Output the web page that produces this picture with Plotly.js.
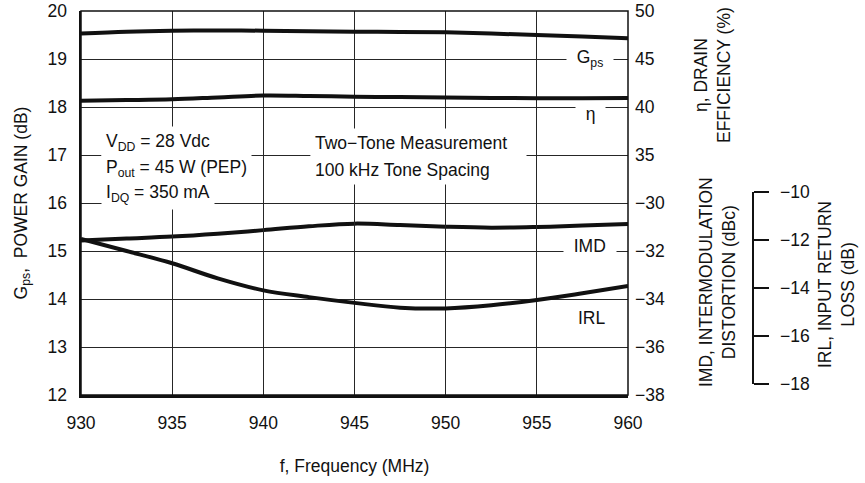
<!DOCTYPE html>
<html>
<head>
<meta charset="utf-8">
<script src="https://cdn.plot.ly/plotly-3.0.1.min.js"></script>
<style>html,body{margin:0;padding:0;background:#fff;}</style>
</head>
<body>
<div id="chart" style="width:865px;height:483px;"></div>
<script>
// ---- data ----
const freq = [930, 932.5, 935, 937.5, 940, 942.5, 945, 947.5, 950, 952.5, 955, 957.5, 960];
const gps  = [19.53, 19.57, 19.59, 19.595, 19.59, 19.58, 19.57, 19.565, 19.555, 19.53, 19.5, 19.47, 19.43];
const eta  = [40.66, 40.72, 40.8, 41.0, 41.2, 41.15, 41.07, 41.03, 41.0, 40.95, 40.92, 40.92, 40.95];
const imd  = [-31.56, -31.48, -31.40, -31.28, -31.13, -30.97, -30.86, -30.92, -30.99, -31.03, -31.0, -30.94, -30.88];
const irl  = [-11.96, -12.46, -12.97, -13.6, -14.1, -14.38, -14.62, -14.82, -14.85, -14.72, -14.5, -14.22, -13.92];

const xTicks   = [930, 935, 940, 945, 950, 955, 960];
const etaTicks = [35, 40, 45, 50];
const imdTicks = [-38, -36, -34, -32, -30];
const irlTicks = [-18, -16, -14, -12, -10];

const F = 'Liberation Sans, Arial, Helvetica, sans-serif';
const FS = 17.5;
const INK = '#111';
const GRID = '#262626';

const W = 865, H = 483, ML = 81, MR = 20, MT = 11, MB = 88;
const PW = W - ML - MR;            // paper width in px
const PH = H - MT - MB;            // plot height in px
const XD = 547 / PW;               // x domain end

function line(y, yaxis) {
  return {x: freq, y: y, yaxis: yaxis, type: 'scatter', mode: 'lines',
          line: {color: INK, width: 4, shape: 'spline', smoothing: 1},
          hoverinfo: 'skip'};
}
const traces = [line(gps, 'y'), line(eta, 'y2'), line(imd, 'y3'), line(irl, 'y4')];

function ann(text, x, y, opts) {
  return Object.assign({text: text, x: x, y: y, xref: 'x', yref: 'y', showarrow: false,
    xanchor: 'center', yanchor: 'middle',
    font: {family: F, size: FS, color: INK}}, opts || {});
}
const px2f = p => 930 + (p - ML) * 30 / 547;
const py2g = p => 20 - (p - MT) / 48;
const pxPaper = p => (p - ML) / PW;
const pyPaper = p => (MT + PH - p) / PH;

const annotations = [
  ann('V<sub>DD</sub> = 28 Vdc', px2f(101), py2g(142), {xanchor: 'left', bgcolor: '#fff', borderpad: 4}),
  ann('P<sub>out</sub> = 45 W (PEP)', px2f(101), py2g(168), {xanchor: 'left', bgcolor: '#fff', borderpad: 4}),
  ann('I<sub>DQ</sub> = 350 mA', px2f(101), py2g(193), {xanchor: 'left', bgcolor: '#fff', borderpad: 4}),
  ann('Two\u2212Tone Measurement\u00a0\u00a0\u00a0', px2f(310), py2g(143), {xanchor: 'left', bgcolor: '#fff', borderpad: 4}),
  ann('100 kHz Tone Spacing', px2f(310), py2g(170), {xanchor: 'left', bgcolor: '#fff', borderpad: 4}),
  ann('\u00a0\u00a0G<sub>ps</sub>\u00a0\u00a0', px2f(590), py2g(58), {bgcolor: '#fff', borderpad: 0}),
  ann('\u00a0\u00a0\u03B7\u00a0\u00a0', px2f(590), py2g(114), {bgcolor: '#fff', borderpad: 0}),
  ann('\u00a0\u00a0IMD\u00a0\u00a0', px2f(590), py2g(246), {bgcolor: '#fff', borderpad: 0}),
  ann('IRL', px2f(592), py2g(318)),
  // right-hand axis titles
  ann('\u03B7, DRAIN<br>EFFICIENCY (%)', pxPaper(713), pyPaper(75), {xref: 'paper', yref: 'paper', textangle: -90}),
  ann('IMD, INTERMODULATION<br>DISTORTION (dBc)', pxPaper(717), pyPaper(282), {xref: 'paper', yref: 'paper', textangle: -90}),
  ann('IRL, INPUT RETURN<br>LOSS (dB)', pxPaper(836), pyPaper(285), {xref: 'paper', yref: 'paper', textangle: -90})
];

const layout = {
  width: W, height: H,
  margin: {l: ML, r: MR, t: MT, b: MB},
  paper_bgcolor: '#fff', plot_bgcolor: 'rgba(0,0,0,0)',
  showlegend: false,
  font: {family: F, size: FS, color: INK},
  xaxis: {
    domain: [0, XD], range: [930, 960], tickvals: xTicks,
    showgrid: true, gridcolor: GRID, gridwidth: 1, zeroline: false,
    showline: true, linecolor: INK, linewidth: 2.5, ticks: '', ticklabelstandoff: 10,
    title: {text: 'f, Frequency (MHz)', standoff: 28, font: {family: F, size: FS}},
    fixedrange: true
  },
  yaxis: {
    range: [12, 20], dtick: 1,
    showgrid: true, gridcolor: GRID, gridwidth: 1, zeroline: false,
    showline: true, linecolor: INK, linewidth: 2.5, ticks: '', ticklabelstandoff: 8,
    title: {text: 'G<sub>ps</sub>,\u00a0\u00a0POWER GAIN (dB)', standoff: 16, font: {family: F, size: FS}},
    fixedrange: true
  },
  yaxis2: {
    overlaying: 'y', side: 'right', anchor: 'x', range: [10, 50], tickvals: etaTicks,
    showgrid: false, showline: false, zeroline: false, ticks: '', ticklabelstandoff: 6, fixedrange: true
  },
  yaxis3: {
    overlaying: 'y', side: 'right', anchor: 'x', range: [-38, -22], tickvals: imdTicks,
    showgrid: false, showline: false, zeroline: false, ticks: '', ticklabelstandoff: 6, fixedrange: true
  },
  yaxis4: {
    domain: [11 / PH, 203 / PH], anchor: 'free', position: pxPaper(752), side: 'right',
    range: [-18, -10], tickvals: irlTicks,
    showgrid: false, zeroline: false, showline: true, linecolor: INK, linewidth: 1.5,
    ticks: 'outside', ticklen: 15, tickwidth: 1.5, tickcolor: INK, ticklabelstandoff: 8, fixedrange: true
  },
  shapes: [
    {type: 'rect', xref: 'paper', yref: 'paper', x0: 0, x1: XD, y0: 0, y1: 1,
     line: {color: INK, width: 1.5}, fillcolor: 'rgba(0,0,0,0)'}
  ],
  annotations: annotations
};

Plotly.newPlot('chart', traces, layout, {staticPlot: true, displayModeBar: false});
</script>
</body>
</html>
